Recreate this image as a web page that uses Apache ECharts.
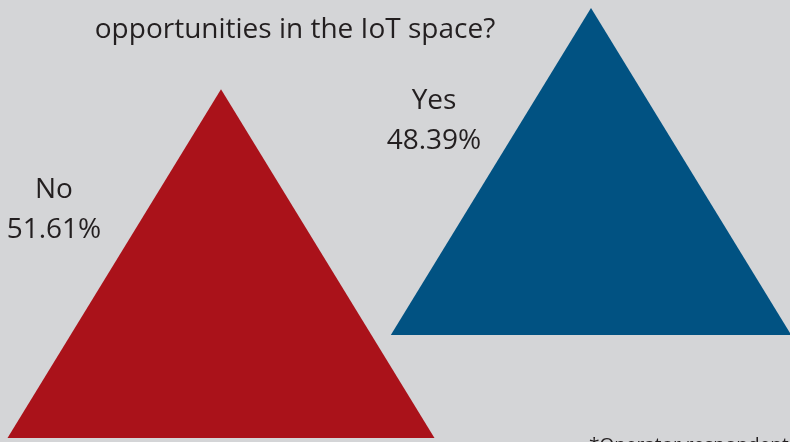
<!DOCTYPE html>
<html>
<head>
<meta charset="utf-8">
<script src="https://cdn.jsdelivr.net/npm/echarts@6/dist/echarts.min.js"></script>
<style>
  html, body { margin: 0; padding: 0; background: #d4d5d7; }
  #chart { width: 790px; height: 442px; }
</style>
</head>
<body>
<div id="chart"></div>
<script>
// Survey answers
const answers = ['No', 'Yes'];
const shares = [51.61, 48.39];
const titleText = 'opportunities in the IoT space?';
const noteText = '*Operator respondents';

// Presentation settings for each triangle (pixels)
const colors = ['#aa121a', '#015282'];
const lift = [0, 103];                    // vertical raise of each triangle
const labelShift = [[-167, 101], [-157, 93]]; // label anchor relative to apex
const slope = 0.612;                       // half-width / height

const chart = echarts.init(document.getElementById('chart'));
const FONT = '"Open Sans", "Noto Sans", sans-serif';
const INK = '#231f20';

chart.setOption({
  backgroundColor: '#d4d5d7',
  animation: false,
  grid: { left: 36, right: 14, top: 0, bottom: 4 },
  xAxis: { type: 'category', data: answers, show: false },
  yAxis: { type: 'value', min: 0, max: 64.8, show: false },
  graphic: [
    {
      type: 'text', left: null, x: 295, y: 30,
      style: { text: titleText, font: '28px ' + FONT, fill: INK, align: 'center', verticalAlign: 'middle' }
    },
    {
      type: 'text', x: 589, y: 446,
      style: { text: noteText, font: '19px ' + FONT, fill: INK, align: 'left', verticalAlign: 'middle' }
    }
  ],
  series: [{
    type: 'custom',
    data: answers.map((a, i) => [i, shares[i]]),
    renderItem: function (params, api) {
      const i = params.dataIndex;
      const cat = api.value(0);
      const val = api.value(1);
      const base = api.coord([cat, 0]);
      const top = api.coord([cat, val]);
      const dy = lift[i];
      const h = base[1] - top[1];
      const hw = h * slope;
      const apex = [top[0], top[1] - dy];
      const by = base[1] - dy;
      const lx = apex[0] + labelShift[i][0];
      const ly = apex[1] + labelShift[i][1];
      return {
        type: 'group',
        children: [
          {
            type: 'polygon',
            shape: { points: [apex, [apex[0] - hw, by], [apex[0] + hw, by]] },
            style: { fill: colors[i] }
          },
          {
            type: 'text', x: lx, y: ly,
            style: { text: answers[i], font: '28px ' + FONT, fill: INK, align: 'center', verticalAlign: 'middle' }
          },
          {
            type: 'text', x: lx, y: ly + 40,
            style: { text: val.toFixed(2) + '%', font: '28px ' + FONT, fill: INK, align: 'center', verticalAlign: 'middle' }
          }
        ]
      };
    }
  }]
});
</script>
</body>
</html>
